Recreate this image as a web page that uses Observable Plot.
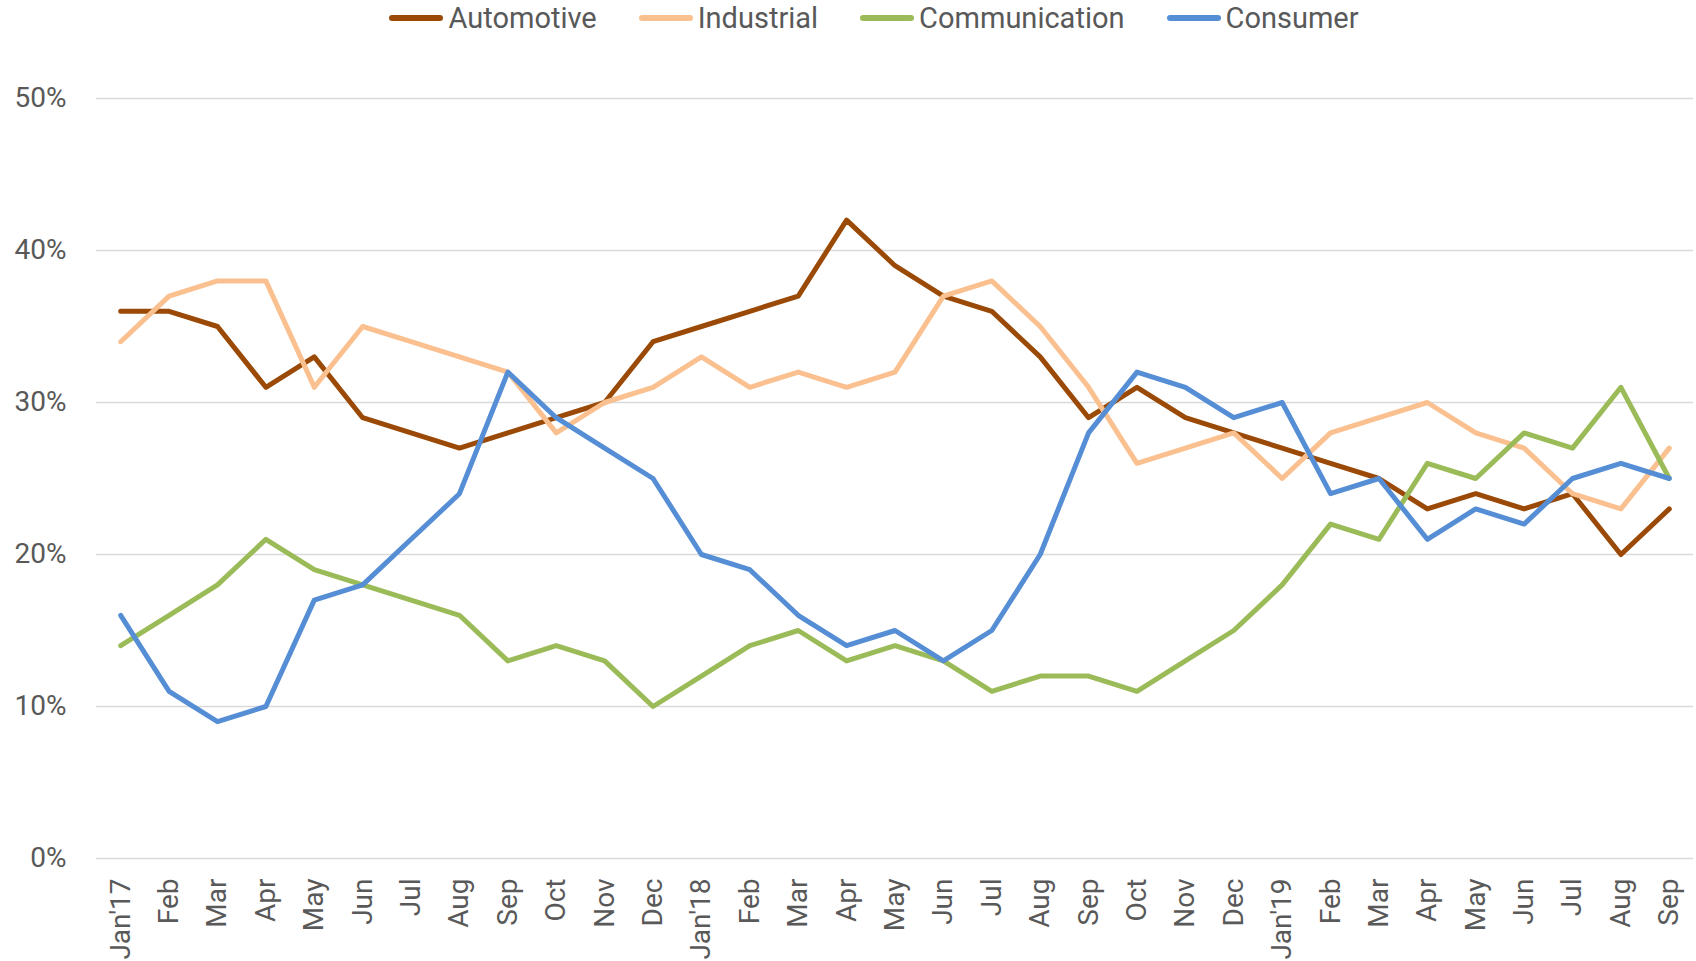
<!DOCTYPE html>
<html>
<head>
<meta charset="utf-8">
<script src="https://cdn.jsdelivr.net/npm/d3@7"></script>
<script src="https://cdn.jsdelivr.net/npm/@observablehq/plot@0.6"></script>
<style>
  html, body { margin: 0; padding: 0; background: #fff; overflow: hidden; }
  #legend { height: 36px; display: flex; justify-content: center; align-items: center; padding-left: 52px;
    font-family: Roboto, "Liberation Sans", sans-serif; font-size: 29px; color: #595959; }
  .item { display: flex; align-items: center; margin: 0 21px; }
  .sw { width: 54px; height: 6px; border-radius: 3px; margin-right: 5px; }
  #chart svg { display: block; }
</style>
</head>
<body>
<div id="legend"></div>
<div id="chart"></div>
<script>
const months = ["Jan'17","Feb","Mar","Apr","May","Jun","Jul","Aug","Sep","Oct","Nov","Dec",
  "Jan'18","Feb ","Mar ","Apr ","May ","Jun ","Jul ","Aug ","Sep ","Oct ","Nov ","Dec ",
  "Jan'19","Feb  ","Mar  ","Apr  ","May  ","Jun  ","Jul  ","Aug  ","Sep  "];
const seriesNames = ["Automotive","Industrial","Communication","Consumer"];
const seriesColors = ["#9A4A06","#FAC090","#9BBB59","#558ED5"];
const automotive = [36,36,35,31,33,29,28,27,28,29,30,34,35,36,37,42,39,37,36,33,29,31,29,28,27,26,25,23,24,23,24,20,23];
const industrial = [34,37,38,38,31,35,34,33,32,28,30,31,33,31,32,31,32,37,38,35,31,26,27,28,25,28,29,30,28,27,24,23,27];
const communication = [14,16,18,21,19,18,17,16,13,14,13,10,12,14,15,13,14,13,11,12,12,11,13,15,18,22,21,26,25,28,27,31,25];
const consumer = [16,11,9,10,17,18,21,24,32,29,27,25,20,19,16,14,15,13,15,20,28,32,31,29,30,24,25,21,23,22,25,26,25];
const yTicks = [0,10,20,30,40,50];

const allSeries = [automotive, industrial, communication, consumer];
const data = [];
allSeries.forEach((vals, si) => vals.forEach((v, i) => data.push({series: seriesNames[si], month: months[i], value: v})));

// legend
const legend = document.getElementById("legend");
seriesNames.forEach((n, i) => {
  const it = document.createElement("div"); it.className = "item";
  const sw = document.createElement("div"); sw.className = "sw"; sw.style.background = seriesColors[i];
  const tx = document.createElement("span"); tx.textContent = n;
  it.appendChild(sw); it.appendChild(tx); legend.appendChild(it);
});

const chart = Plot.plot({
  width: 1696,
  height: 925,
  marginLeft: 96,
  marginRight: 3,
  marginTop: 62,
  marginBottom: 103,
  style: {fontFamily: "Roboto, 'Liberation Sans', sans-serif", color: "#595959", background: "#fff"},
  x: {type: "point", domain: months, padding: 0.5, round: false},
  y: {domain: [0, 50]},
  color: {domain: seriesNames, range: seriesColors},
  marks: [
    Plot.gridY(yTicks, {stroke: "#D9D9D9", strokeOpacity: 1, strokeWidth: 1.6}),
    Plot.axisY(yTicks, {tickSize: 0, tickPadding: 30, fontSize: 28, tickFormat: d => d + "%", label: null, fill: "#595959"}),
    Plot.axisX({tickSize: 0, tickPadding: 20, tickRotate: -90, fontSize: 28, label: null, fill: "#595959", tickFormat: d => d.trim()}),
    Plot.line(data, {x: "month", y: "value", z: "series", stroke: "series", strokeWidth: 5, strokeLinejoin: "round", strokeLinecap: "round"})
  ]
});
document.getElementById("chart").appendChild(chart);
</script>
</body>
</html>
